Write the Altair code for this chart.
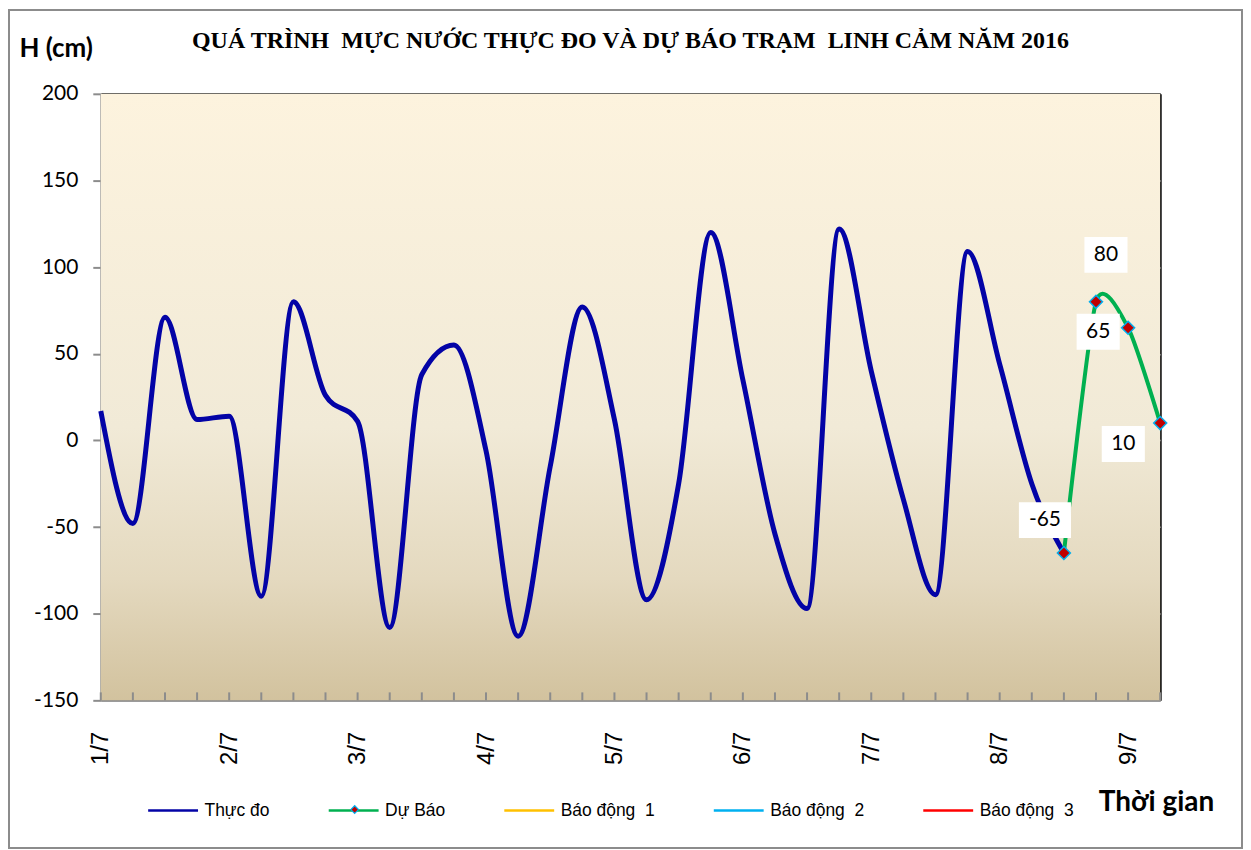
import altair as alt
import pandas as pd

# ---- data (6-hourly steps, 1/7 00h .. 9/7 06h) ----
day_labels = ["1/7", "2/7", "3/7", "4/7", "5/7", "6/7", "7/7", "8/7", "9/7"]
observed = [17, -48, 71, 12, 14, -90, 80, 26, 11, -108,
            38, 55, -6, -113, -15, 77, 12, -92, -25, 120,
            35, -54, -97, 122, 40, -34, -89, 109, 44, -25, -65]
forecast = [-65, 80, 65, 10]
forecast_start = 30
series_names = ["Thực đo", "Dự Báo", "Báo động \u00a01", "Báo động \u00a02", "Báo động \u00a03"]
series_colors = ["#0303A6", "#00B050", "#FFC000", "#00B0F0", "#FF0000"]
y_ticks = [-150, -100, -50, 0, 50, 100, 150, 200]

n_steps = len(observed) + len(forecast) - 1  # 34 time steps
obs_df = pd.DataFrame({"t": list(range(len(observed))), "h": observed, "series": series_names[0]})
fc_df = pd.DataFrame({"t": list(range(forecast_start, forecast_start + len(forecast))),
                      "h": forecast, "series": series_names[1]})
tick_df = pd.DataFrame({"t": list(range(n_steps)), "y0": -150, "y1": -145.4})

W, H = 1062, 608
label_array = "[" + ",".join("'" + d + "'" for d in day_labels) + "]"
last = n_steps - 1

x_scale = alt.Scale(domain=[0, last], nice=False, zero=False)
y_scale = alt.Scale(domain=[-150, 200], nice=False)
color_scale = alt.Scale(domain=series_names, range=series_colors)

x_axis = alt.Axis(
    values=list(range(0, n_steps, 4)) + [last],
    labelExpr="datum.value % 4 == 0 ? " + label_array + "[datum.value/4] : ''",
    labelAngle=270, labelAlign="right", labelBaseline="middle",
    labelFont="Liberation Sans", labelFontSize=24, labelColor="black", labelPadding=31,
    ticks=False, domainColor="#8C8C8C", domainWidth=2,
    grid=True, gridColor="black", gridWidth=2,
    gridOpacity=alt.condition("datum.value == " + str(last), alt.value(1), alt.value(0)),
    title="Thời gian", titleFont="Lato", titleFontSize=28, titleFontWeight="bold",
    titleColor="black", titleX=1000, titleY=102, titleAlign="left", titleBaseline="middle",
    titleAngle=0,
)
y_axis = alt.Axis(
    values=y_ticks, labelExpr="'' + datum.value",
    labelFont="Lato", labelFontSize=21, labelColor="black", labelPadding=15,
    tickSize=8, tickColor="#8C8C8C", tickWidth=2, domainColor="#8C8C8C", domainWidth=2,
    grid=True,
    gridColor=alt.condition("datum.value == 200", alt.value("black"), alt.value("#8C8C8C")),
    gridWidth=alt.condition("datum.value == 200", alt.value(2), alt.value(1.5)),
    title="H (cm)", titleFont="Lato", titleFontSize=26, titleFontWeight="bold",
    titleColor="black", titleAngle=0, titleX=-82, titleY=-45, titleAlign="left",
    titleBaseline="middle",
)

gradient = alt.LinearGradient(
    gradient="linear", x1=0, x2=0, y1=0, y2=1,
    stops=[alt.GradientStop(color="#FDF3DE", offset=0),
           alt.GradientStop(color="#F1EAD7", offset=0.55),
           alt.GradientStop(color="#E4D9BF", offset=0.8),
           alt.GradientStop(color="#D2C29E", offset=1)],
)
bg = alt.Chart(alt.Data(values=[{}])).mark_rect(fill=gradient).encode(
    x=alt.value(0), x2=alt.value("width"), y=alt.value(0), y2=alt.value("height"))

main_legend = alt.Legend(
    title=None, orient="none", legendX=46, legendY=692, direction="horizontal", columns=5,
    symbolType="stroke", symbolSize=2500, symbolStrokeWidth=2.5,
    labelFont="Liberation Sans", labelFontSize=17.5, labelColor="black", labelOffset=5,
    columnPadding=53,
)

obs_line = alt.Chart(obs_df).mark_line(interpolate="monotone", strokeWidth=5).encode(
    x=alt.X("t:Q", scale=x_scale, axis=x_axis),
    y=alt.Y("h:Q", scale=y_scale, axis=y_axis),
    color=alt.Color("series:N", scale=color_scale, legend=main_legend),
)
fc_line = alt.Chart(fc_df).mark_line(interpolate="cardinal", tension=0.35, strokeWidth=4).encode(
    x=alt.X("t:Q", scale=x_scale), y=alt.Y("h:Q", scale=y_scale),
    color=alt.Color("series:N", scale=color_scale, legend=main_legend),
)
fc_pts = alt.Chart(fc_df).mark_point(shape="diamond", filled=True, size=170, opacity=1,
                                     stroke="#00B0F0", strokeWidth=1.5).encode(
    x=alt.X("t:Q", scale=x_scale), y=alt.Y("h:Q", scale=y_scale),
    fill=alt.Fill("series:N", scale=alt.Scale(domain=[series_names[1]], range=["#C00000"]),
                  legend=alt.Legend(title=None, orient="none", legendX=250, legendY=713,
                                    symbolType="diamond", symbolSize=60,
                                    symbolStrokeColor="#00B0F0", symbolStrokeWidth=1.2,
                                    labelExpr="''", labelFontSize=1)),
)
ticks = alt.Chart(tick_df).mark_rule(color="#8C8C8C", strokeWidth=2).encode(
    x=alt.X("t:Q", scale=x_scale), y=alt.Y("y0:Q", scale=y_scale), y2="y1:Q")

# data labels (placement offsets are styling)
label_style = [(-19, -33, 1.45), (10, -47, 1.2), (-30, 4, 1.2), (-37, 21, 1.2)]
label_layers = []
for i, (dx, dy, wr) in enumerate(label_style):
    sub = fc_df.iloc[[i]]
    path = "M-{0},-1H{0}V1H-{0}Z".format(wr)
    box = alt.Chart(sub).mark_point(
        shape=path, filled=True, fill="white",
        strokeWidth=0, size=1296, opacity=1, xOffset=dx, yOffset=dy).encode(
        x=alt.X("t:Q", scale=x_scale), y=alt.Y("h:Q", scale=y_scale))
    txt = alt.Chart(sub).transform_calculate(lbl="'' + datum.h").mark_text(
        font="Lato", fontSize=21, color="black", dx=dx, dy=dy,
        align="center", baseline="middle").encode(
        x=alt.X("t:Q", scale=x_scale), y=alt.Y("h:Q", scale=y_scale), text="lbl:N")
    label_layers += [box, txt]

frame = alt.Chart(alt.Data(values=[{}])).mark_rect(
    fill=None, stroke="#8C8C8C", strokeWidth=2).encode(
    x=alt.value(-92), x2=alt.value(1144), y=alt.value(-84), y2=alt.value(756))

chart = alt.layer(bg, ticks, obs_line, fc_line, fc_pts, *label_layers, frame).properties(
    width=W, height=H, padding=0, background="white",
    title=alt.TitleParams(
        "QUÁ TRÌNH \u00a0MỰC NƯỚC THỰC ĐO VÀ DỰ BÁO TRẠM \u00a0LINH CẢM NĂM 2016",
        font="Liberation Serif", fontSize=24, fontWeight="bold", color="black",
        anchor="middle", frame="group", offset=-44),
).resolve_legend(color="shared").configure_view(stroke=None)

chart.save("out.html", embed_options={"renderer": "svg", "actions": False})
